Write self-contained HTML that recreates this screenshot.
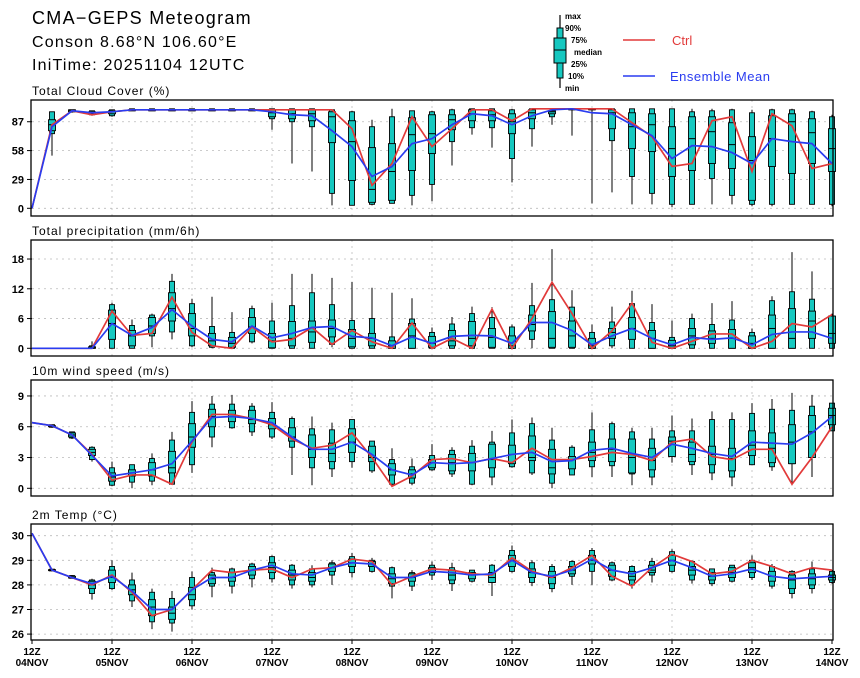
<!DOCTYPE html>
<html><head><meta charset="utf-8"><style>
body{margin:0;background:#fff;width:860px;height:678px;overflow:hidden}
svg{display:block;font-family:"Liberation Sans",sans-serif}
.t{font-weight:bold;fill:#000}
.ls{letter-spacing:1px}
</style></head><body>
<svg id="chart" width="860" height="678" viewBox="0 0 860 678" xmlns="http://www.w3.org/2000/svg">
<text x="32" y="24" font-size="18" fill="#000" style="letter-spacing:1.3px">CMA−GEPS Meteogram</text>
<text x="32" y="47" font-size="16" fill="#000" style="letter-spacing:1.2px">Conson 8.68°N 106.60°E</text>
<text x="32" y="70" font-size="16" fill="#000" style="letter-spacing:1.2px">IniTime: 20251104 12UTC</text>
<g>
<line x1="560" y1="15" x2="560" y2="88" stroke="#000" stroke-width="1.2"/>
<rect x="557" y="28" width="6" height="50" fill="#16c8c0" stroke="#000"/>
<rect x="554" y="38" width="12" height="25" fill="#16c8c0" stroke="#000"/>
<line x1="554" y1="50" x2="566" y2="50" stroke="#000"/>
<text x="565" y="19" font-size="8" class="t">max</text>
<text x="565" y="31" font-size="8" class="t">90%</text>
<text x="571" y="43" font-size="8" class="t">75%</text>
<text x="574" y="55" font-size="8" class="t">median</text>
<text x="571" y="67" font-size="8" class="t">25%</text>
<text x="568" y="79" font-size="8" class="t">10%</text>
<text x="565" y="91" font-size="8" class="t">min</text>
<line x1="623" y1="40" x2="655" y2="40" stroke="#e23a3a" stroke-width="1.5"/>
<text x="672" y="45" font-size="13" fill="#e23a3a">Ctrl</text>
<line x1="623" y1="76" x2="655" y2="76" stroke="#2a3cf0" stroke-width="1.5"/>
<text x="670" y="81" font-size="13" fill="#2a3cf0" style="letter-spacing:0.5px">Ensemble Mean</text>
</g>
</svg>
<script>
const steps = 41;
const dayLabels = ["04NOV","05NOV","06NOV","07NOV","08NOV","09NOV","10NOV","11NOV","12NOV","13NOV","14NOV"];
const cloudMin = [null,53,96,93,92,98,98,98,98,98,98,98,79,45,37,3,3,3,5,3,7,43,74,61,26,62,84,73,5,16,4,4,1,4,4,4,2,2,4,4,2];
const cloudP10 = [null,75,97,94,93,98,98,98,98,98,98,98,90,87,82,15,3,4,5,13,24,67,81,81,50,80,92,100,100,68,32,15,4,4,30,13,4,4,4,4,4];
const cloudP25 = [null,78,97,95,95,99,99,99,99,99,99,99,92,90,88,66,28,6,8,38,55,79,88,88,75,90,95,100,100,80,60,57,32,38,45,40,8,42,35,45,37];
const cloudMed = [null,84,98,96,97,99,99,99,99,99,99,99,96,95,95,92,67,19,37,74,75,89,95,94,87,96,97,100,100,96,82,84,60,70,77,64,48,70,87,76,60];
const cloudP75 = [null,89,99,97,98,99,99,99,99,99,99,99,99,99,99,97,88,61,65,91,94,94,99,98,95,99,98,100,100,99,96,95,82,92,92,86,72,93,95,90,80];
const cloudP90 = [null,97,99,98,99,100,100,100,100,100,100,100,100,100,100,99,97,82,92,98,97,99,100,100,99,100,98,100,100,100,100,100,100,97,98,99,96,99,99,97,92];
const cloudMax = [null,97,99,98,99,100,100,100,100,100,100,100,100,100,100,99,98,89,100,98,98,100,100,100,100,100,98,100,100,100,100,100,100,100,100,100,99,100,100,98,94];
const cloudCtrl = [0,84,98,94,97,99,99,99,99,99,99,99,99,99,99,99,80,23,45,92,62,80,99,99,88,100,100,100,100,100,86,72,42,45,88,92,37,95,83,40,45];
const cloudMean = [0,82,98,96,97,99,99,99,99,99,99,99,97,94,93,78,62,32,42,65,70,84,95,93,84,93,99,100,96,95,84,73,50,63,62,56,45,70,67,65,45];
const prcMin = [null,null,null,0,0,0,0.2,1.8,0.2,0,0,1,0,0,0,0.2,0,0,0,0,0,0,0,0,0,0,0,0,0,0,0,0,0,0,0,0,0,0,0,0,0];
const prcP10 = [null,null,null,0,0,0,2.5,3.3,0.5,0.2,0,1.3,0,0,0,0.8,0,0,0,0,0,0,0,0,0,1.8,0,0,0,0.5,0,0,0,0,0,0,0,0,0,0,0];
const prcP25 = [null,null,null,0,1.8,0.5,3,5.5,2.5,0.5,0.2,3,0.1,0.5,1.2,2.3,0.3,0.5,0,0,0.2,0.5,0.5,0.2,0,3.5,0.2,0.2,0,2,1.8,0,0,0.7,1,0,0,0,0,2,1];
const prcMed = [null,null,null,0.1,5,2.5,4.5,8,4,1.5,1,4.3,1.5,2,3.3,4,2,2,0.5,2.5,1,1.5,2,2.2,0.5,4.8,2,2.5,0.5,3.2,4,2,0.5,2.5,2,2,1,4,2,5.5,3];
const prcP75 = [null,null,null,0.3,7.7,3.6,6.2,11.2,7,3,2.2,6.2,3,5.4,5.5,5.7,3.8,3,1.5,5,2.4,3.6,5.4,4,2.5,6.7,7.4,5.5,2,4,6.2,3.6,1.6,4,3.5,3.8,2.5,6.7,8,7.5,6.5];
const prcP90 = [null,null,null,0.5,8.8,4.6,6.7,13.5,9,4.4,3.2,8,5.5,8.6,11.2,8.8,5.6,6,2.3,5.9,3.2,4.9,7,6.2,4.3,8.6,9.8,8.3,3.2,5.3,9,5.2,2.2,6,4.8,5.7,3.2,9.6,11.4,9.9,6.5];
const prcMax = [null,null,null,1.4,9.2,5.8,7,15,10,10.4,7.3,8.6,9.2,15,15,14.2,13.4,12.2,11.2,10.1,4.2,6.3,8.4,8.3,4.8,13.2,20,11.7,4.8,8.4,11.6,8.9,5.6,7,9.1,9.5,4,10.5,19.4,15.5,7];
const prcCtrl = [0,0,0,0,7.5,2.6,3,10.3,3.2,0.5,0,4.3,1.3,1.8,4.2,0.8,3.6,1.3,0,5.1,0,2,0,7.9,0,6,13.3,7,0,3.5,9.1,1.2,0,1.4,2.9,2.9,0,1.4,5,4.3,6.8];
const prcMean = [0,0,0,0,5,2.6,4.2,7.8,4.5,1.8,1.3,4.5,2.1,3,4.2,4.4,2.4,2.1,0.5,2.3,1,2.4,2.6,2.5,1,5.2,5.2,3.6,0.7,2.5,4,2,0.7,2.2,1.8,2.1,0.7,2.8,3.3,3.3,2];
const wndMin = [null,5.9,4.8,2.6,0.2,0,0.3,0.4,1.5,4,5.8,5.1,4.8,1.3,0.3,1.1,2,1.5,0.3,0.3,1.7,1.1,0.3,0.3,2,1.3,0,1.3,1.1,1.1,0.3,0.3,2.5,1.3,0.8,0.2,2.3,1.7,0.3,1.1,5.6];
const wndP10 = [null,5.95,4.9,2.8,0.3,0.6,0.7,0.4,2.3,5,5.9,5.5,5,4,2,1.9,2.6,1.7,0.4,0.5,1.8,1.4,0.4,1.1,2.1,1.5,0.5,1.3,2.1,2.2,1.4,1.1,3.1,2.3,1.5,1.1,2.3,2.1,2.4,3,5.6];
const wndP25 = [null,6,5,3.2,0.7,1.2,1.2,1.5,4,6,6.5,6.3,5.8,4.6,3,2.6,3.5,2.6,1.3,1,2,1.7,1.7,2,2.4,2.7,1.4,1.9,2.7,2.6,1.5,1.8,3.1,2.6,2.3,1.7,3.2,2.5,2.4,3,6.2];
const wndMed = [null,6.05,5.2,3.5,1.1,1.5,1.8,2,5,7,7.2,6.7,6.2,5,3.8,3.4,4.5,3,1.8,1.4,2.5,2.5,2.5,2.8,3.3,3,2,2.8,3.5,3.8,3,2.7,4.6,3.3,3.3,2.9,4.2,3.9,4.5,5.5,7.1];
const wndP75 = [null,6.1,5.4,3.8,1.5,1.8,2.5,3.6,6.3,7.7,7.6,7.6,6.8,5.9,5.2,4.4,5.8,4.1,2.4,1.8,2.8,3.3,3.4,4.3,4.2,5.1,3.8,3.1,4.5,4.8,4.8,3.9,5,4.5,4.1,3.9,5.6,5.4,6.2,7.1,7.8];
const wndP90 = [null,6.2,5.5,4,2,2.3,2.9,4.7,7.4,8.2,8.2,8,7.4,6.8,5.8,5.7,6.7,4.6,2.8,2.1,3.2,3.7,4.1,4.5,5.4,6.3,4.7,4,5.7,6.3,5.5,4.8,5.6,5.6,6.7,6.7,7.3,7.7,7.6,8,8.3];
const wndMax = [null,6.2,5.5,4.1,2.6,2.3,3.4,5.5,8.5,9,9.1,8.3,8.4,7,7,6.4,6.7,4.6,3.9,2.9,4.3,4,4.7,5.6,6.7,6.9,5.9,4.2,7.4,6.5,5.9,5.9,7.1,6.8,7.5,7.4,8.3,8.7,9.3,9.1,8.3];
const wndCtrl = [6.4,6.1,5.2,3.3,0.8,1.3,1.3,0.4,4.5,7.2,7.2,6.8,6.2,4.8,3.9,4.2,5.4,3,0.2,1.2,2.8,2.9,2.5,2.9,2.5,3.9,2.8,2.8,3.1,3.5,3.3,2.7,4.5,4.8,3.1,2.8,3.8,3.8,0.4,3,6];
const wndMean = [6.4,6.1,5.2,3.2,1.2,1.5,1.8,2.4,4.6,6.9,7,6.8,6.4,5,3.8,3.8,4.5,3.3,1.8,1.3,2.5,2.4,2.5,2.9,3.3,3.5,2.6,2.7,3.7,3.9,3.4,3,4.3,3.9,3.4,3.1,4.5,4.4,4.3,5.4,7];
const tmpMin = [null,28.55,28.25,27.4,27.8,27.1,26.2,26.1,27,27.5,27.65,27.9,28.1,27.85,27.9,28,28.3,28.5,27.45,27.75,28.2,27.75,28.1,27.55,28.5,27.95,27.7,28,28,28.15,27.85,28.1,28.5,28.05,27.95,28.1,28.2,27.85,27.45,27.65,28.05];
const tmpP10 = [null,28.57,28.27,27.65,27.85,27.35,26.5,26.45,27.15,27.95,27.95,28.25,28.25,28,28,28.4,28.5,28.55,27.95,27.95,28.4,28.05,28.15,28.1,28.55,28.1,27.85,28.35,28.55,28.2,28,28.4,28.55,28.2,28.05,28.15,28.3,27.95,27.65,27.85,28.1];
const tmpP25 = [null,28.58,28.28,27.85,28.1,27.6,26.75,26.6,27.4,28.05,28.15,28.4,28.5,28.2,28.15,28.55,28.75,28.75,28.05,28.15,28.5,28.2,28.25,28.1,28.75,28.3,28.05,28.45,28.85,28.35,28.2,28.5,28.8,28.4,28.2,28.3,28.5,28.15,27.85,28,28.2];
const tmpMed = [null,28.6,28.3,28,28.3,27.8,27.1,26.85,27.6,28.25,28.3,28.6,28.7,28.4,28.3,28.7,28.9,28.85,28.25,28.3,28.55,28.4,28.4,28.3,29,28.5,28.3,28.6,29,28.6,28.35,28.6,29,28.6,28.35,28.5,28.7,28.35,28.2,28.25,28.3];
const tmpP75 = [null,28.62,28.35,28.15,28.6,28,27.4,27.1,27.9,28.4,28.5,28.75,28.9,28.6,28.5,28.85,29.05,28.95,28.45,28.45,28.7,28.6,28.5,28.5,29.2,28.65,28.55,28.75,29.2,28.8,28.55,28.8,29.2,28.75,28.5,28.7,28.9,28.55,28.4,28.45,28.4];
const tmpP90 = [null,28.64,28.38,28.2,28.75,28.2,27.7,27.45,28.3,28.5,28.65,28.85,29.15,28.8,28.65,28.9,29.15,29,28.7,28.5,28.8,28.7,28.6,28.8,29.4,28.9,28.75,28.95,29.4,28.9,28.75,28.95,29.35,28.95,28.65,28.8,29,28.75,28.55,28.65,28.55];
const tmpMax = [null,28.65,28.4,28.25,29,28.5,27.85,27.75,28.55,28.7,28.7,28.9,29.2,28.85,28.8,29,29.3,29.1,28.75,28.6,28.95,28.9,28.6,28.85,29.6,29,28.85,29,29.5,28.95,28.8,29.1,29.45,29,28.65,28.8,29.2,28.85,28.6,28.95,28.6];
const tmpCtrl = [30.1,28.6,28.3,28,28.4,27.7,26.75,27,27.8,28.6,28.5,28.6,28.65,28.3,28.65,28.7,29.05,28.95,28,28.35,28.65,28.6,28.45,28.4,29.1,28.55,28.3,28.7,29.2,28.35,27.95,28.7,29.25,28.95,28.45,28.55,29,28.75,28.45,28.7,28.6];
const tmpMean = [30.1,28.6,28.3,28.05,28.35,27.75,27,27,27.8,28.3,28.3,28.6,28.8,28.45,28.4,28.7,28.9,28.85,28.3,28.3,28.55,28.5,28.4,28.45,29,28.5,28.35,28.6,29.05,28.6,28.45,28.7,29,28.7,28.35,28.45,28.65,28.35,28.25,28.3,28.35];
const cloudTicks = [0,29,58,87];
const prcTicks = [0,6,12,18];
const wndTicks = [0,3,6,9];
const tmpTicks = [26,27,28,29,30];

const NS = "http://www.w3.org/2000/svg";
const svg = document.getElementById("chart");
const X0 = 32, X1 = 832;
function xScale(i){ return X0 + (X1 - X0) * i / (steps - 1); }
function mk(tag, attrs, parent){
  const e = document.createElementNS(NS, tag);
  for (const k in attrs) e.setAttribute(k, attrs[k]);
  (parent || svg).appendChild(e);
  return e;
}
function panel(key, title, top, bottom, vLo, vHi, ticks, fmt, S, showX){
  const yScale = v => S.y0 + (v - S.v0) * S.k;
  const g = mk("g", {});
  
  
  const tt = mk("text", {x: 32, y: top - 5, "font-size": 12, fill: "#000", class: "ls"}, g);
  tt.textContent = title;
  
  
  ticks.forEach(v => {
    const y = yScale(v);
    mk("line", {x1: X0, x2: X1, y1: y, y2: y, stroke: "#bbb", "stroke-width": 0.8, "stroke-dasharray": "2,4"}, g);
    mk("line", {x1: X0 - 5, x2: X0, y1: y, y2: y, stroke: "#000"}, g);
    const lb = mk("text", {x: X0 - 8, y: y + 4, "font-size": 11, "text-anchor": "end", class: "t"}, g);
    lb.textContent = fmt(v);
    
    
  });
  for (let d = 1; d < dayLabels.length - 1; d++){
    const x = xScale(d * 4);
    mk("line", {x1: x, x2: x, y1: top, y2: bottom, stroke: "#bbb", "stroke-width": 0.8, "stroke-dasharray": "2,4"}, g);
  }
  const A = S.arrs;
  for (let i = 0; i < steps; i++){
    if (A.mn[i] === null) continue;
    const x = xScale(i);
    const bg = mk("g", {}, g);
    
    
    mk("line", {x1: x, x2: x, y1: yScale(A.mx[i]), y2: yScale(A.mn[i]), stroke: "#000", "stroke-width": 1}, bg);
    const a = yScale(A.p90[i]), b = yScale(A.p10[i]);
    mk("rect", {x: x - 2.5, y: a, width: 5, height: Math.max(b - a, 1), fill: "#16c8c0", stroke: "#000", "stroke-width": 0.9}, bg);
    const c = yScale(A.p75[i]), d = yScale(A.p25[i]);
    mk("rect", {x: x - 3.5, y: c, width: 7, height: Math.max(d - c, 1), fill: "#16c8c0", stroke: "#000", "stroke-width": 0.9}, bg);
    const m = yScale(A.md[i]);
    mk("line", {x1: x - 3.5, x2: x + 3.5, y1: m, y2: m, stroke: "#000", "stroke-width": 1}, bg);
  }
  const ptsC = A.ctrl.map((v, i) => xScale(i) + "," + yScale(v)).join(" ");
  const pc = mk("polyline", {points: ptsC, fill: "none", stroke: "#e23a3a", "stroke-width": 1.7}, g);
  
  
  const ptsM = A.mean.map((v, i) => xScale(i) + "," + yScale(v)).join(" ");
  const pm = mk("polyline", {points: ptsM, fill: "none", stroke: "#2a3cf0", "stroke-width": 1.7}, g);
  
  
  mk("rect", {x: X0 - 1, y: top, width: X1 - X0 + 2, height: bottom - top, fill: "none", stroke: "#000", "stroke-width": 1.3}, g);
  if (showX){
    dayLabels.forEach((lbl, d) => {
      const x = xScale(d * 4);
      mk("line", {x1: x, x2: x, y1: bottom, y2: bottom + 4, stroke: "#000"}, g);
      const t1 = mk("text", {x: x, y: bottom + 15, "font-size": 10, "text-anchor": "middle", class: "t"}, g);
      t1.textContent = "12Z";
      
      
      const t2 = mk("text", {x: x, y: bottom + 26, "font-size": 10, "text-anchor": "middle", class: "t"}, g);
      t2.textContent = lbl;
      
      
    });
  }
}
panel("cloud", "Total Cloud Cover (%)", 100, 216, 0, 100, cloudTicks, v => v,
  {v0: 0, y0: 208.3, k: -0.995, arrs: {mn: cloudMin, p10: cloudP10, p25: cloudP25, md: cloudMed, p75: cloudP75, p90: cloudP90, mx: cloudMax, ctrl: cloudCtrl, mean: cloudMean}}, false);
panel("precip", "Total precipitation (mm/6h)", 240, 356, 0, 20, prcTicks, v => v,
  {v0: 0, y0: 348.3, k: -4.96, arrs: {mn: prcMin, p10: prcP10, p25: prcP25, md: prcMed, p75: prcP75, p90: prcP90, mx: prcMax, ctrl: prcCtrl, mean: prcMean}}, false);
panel("wind", "10m wind speed (m/s)", 380, 496, 0, 10, wndTicks, v => v,
  {v0: 0, y0: 488.3, k: -10.26, arrs: {mn: wndMin, p10: wndP10, p25: wndP25, md: wndMed, p75: wndP75, p90: wndP90, mx: wndMax, ctrl: wndCtrl, mean: wndMean}}, false);
panel("temp", "2m Temp (°C)", 524, 640, 26, 30, tmpTicks, v => v,
  {v0: 30, y0: 535.7, k: -24.6, arrs: {mn: tmpMin, p10: tmpP10, p25: tmpP25, md: tmpMed, p75: tmpP75, p90: tmpP90, mx: tmpMax, ctrl: tmpCtrl, mean: tmpMean}}, true);
</script>
</body></html>
